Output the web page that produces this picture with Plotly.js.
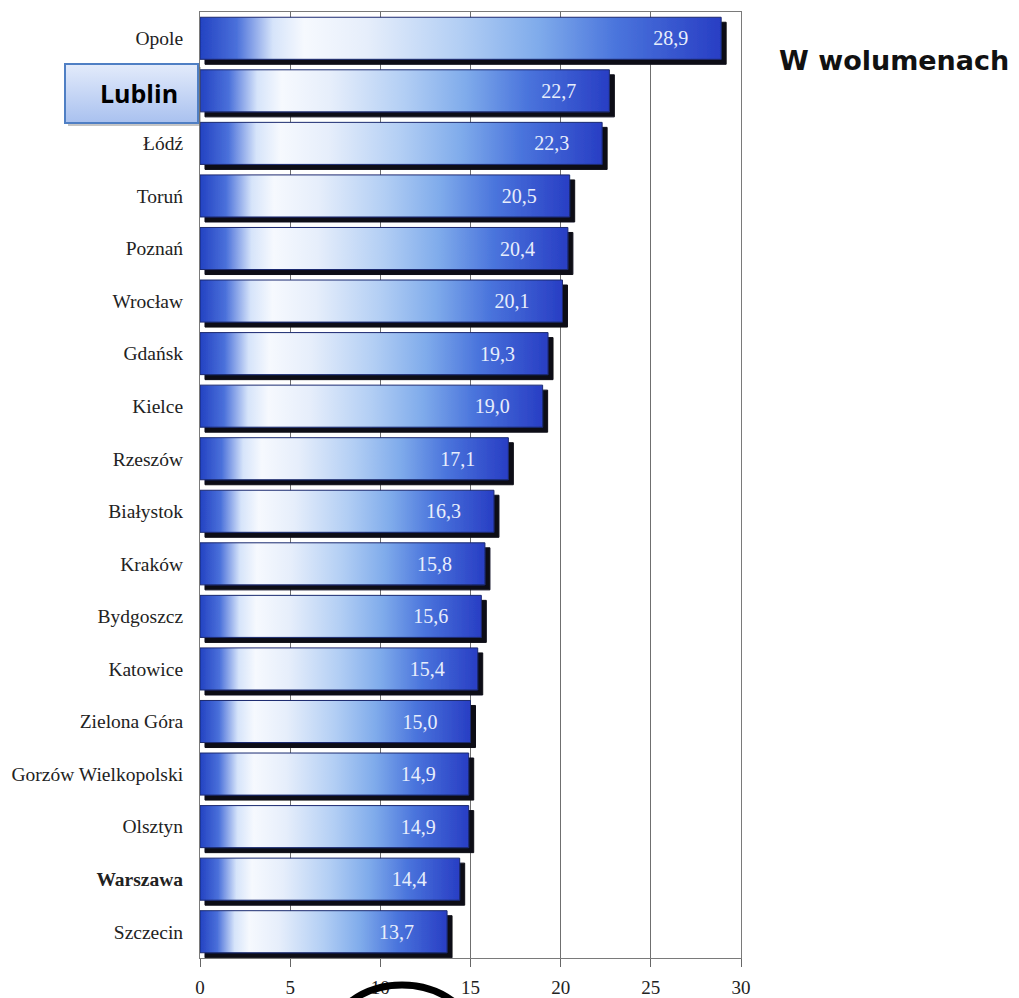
<!DOCTYPE html>
<html>
<head>
<meta charset="utf-8">
<script src="https://cdn.plot.ly/plotly-3.0.1.min.js"></script>
<style>
  html, body { margin: 0; padding: 0; background: #ffffff; }
  #chart { width: 1019px; height: 998px; }
</style>
</head>
<body>
<svg width="0" height="0" style="position:absolute">
  <defs>
    <linearGradient id="barGrad" x1="0" y1="0" x2="1" y2="0">
      <stop offset="0" stop-color="#2342c2"/>
      <stop offset="0.07" stop-color="#4a70da"/>
      <stop offset="0.14" stop-color="#d6e4fa"/>
      <stop offset="0.2" stop-color="#f6f9fe"/>
      <stop offset="0.32" stop-color="#e6eefb"/>
      <stop offset="0.5" stop-color="#b2cef4"/>
      <stop offset="0.65" stop-color="#7fabeb"/>
      <stop offset="0.8" stop-color="#4a74dc"/>
      <stop offset="1" stop-color="#283ec4"/>
    </linearGradient>
    <linearGradient id="boxGrad" x1="0" y1="0" x2="0" y2="1">
      <stop offset="0" stop-color="#e3ebfb"/>
      <stop offset="1" stop-color="#a9c1ef"/>
    </linearGradient>
    <filter id="barShadow" x="-0.05" y="-0.3" width="1.2" height="1.7">
      <feDropShadow dx="5" dy="5" stdDeviation="0.6" flood-color="#0d0d18" flood-opacity="1"/>
    </filter>
  </defs>
</svg>
<div id="chart"></div>
<script>
const cities = ['Opole','Lublin','Łódź','Toruń','Poznań','Wrocław','Gdańsk','Kielce','Rzeszów','Białystok','Kraków','Bydgoszcz','Katowice','Zielona Góra','Gorzów Wielkopolski','Olsztyn','Warszawa','Szczecin'];
const values = [28.9,22.7,22.3,20.5,20.4,20.1,19.3,19.0,17.1,16.3,15.8,15.6,15.4,15.0,14.9,14.9,14.4,13.7];
const boldCities = ['Warszawa'];
const highlightCity = 'Lublin';
const xTicks = [0,5,10,15,20,25,30];

// the highlighted city's label is shown in the callout box instead of the axis
const tickText = cities.map(c => c === highlightCity ? '' : (boldCities.includes(c) ? '<b>' + c + '</b>' : c));
const pad = '\u00a0\u00a0\u00a0\u00a0\u00a0\u00a0';

const trace = {
  type: 'bar',
  orientation: 'h',
  x: values,
  y: cities,
  marker: { color: '#3c64d6', line: { color: '#1b2a70', width: 1 } },
  texttemplate: '%{x:.1f}' + pad,
  textposition: 'inside',
  insidetextanchor: 'end',
  insidetextfont: { family: 'Liberation Serif', size: 20, color: '#e8eefc' },
  hoverinfo: 'skip',
  cliponaxis: false
};

const px = v => (v - 200) / 541;
const py = v => (958 - v) / 946;

const layout = {
  width: 1019,
  height: 998,
  margin: { l: 200, r: 278, t: 12, b: 40 },
  paper_bgcolor: '#ffffff',
  plot_bgcolor: '#ffffff',
  separators: ', ',
  bargap: 0.2,
  showlegend: false,
  font: { family: 'Liberation Serif', color: '#222' },
  xaxis: {
    range: [0, 30],
    tickvals: xTicks,
    ticktext: xTicks.map(String),
    showgrid: true,
    gridcolor: '#6f6f6f',
    gridwidth: 1,
    zeroline: false,
    showline: true,
    linecolor: '#7a7a7a',
    linewidth: 1,
    mirror: true,
    ticks: 'outside',
    ticklen: 8,
    tickcolor: '#666',
    ticklabelstandoff: 4,
    tickfont: { family: 'Liberation Serif', size: 19, color: '#222' },
    fixedrange: true
  },
  yaxis: {
    autorange: 'reversed',
    tickvals: cities,
    ticktext: tickText,
    showgrid: false,
    zeroline: false,
    showline: true,
    linecolor: '#7a7a7a',
    linewidth: 1,
    mirror: true,
    ticks: '',
    ticklabelstandoff: 12,
    tickfont: { family: 'Liberation Serif', size: 19.5, color: '#222' },
    fixedrange: true
  },
  shapes: [
    { type: 'rect', xref: 'paper', yref: 'paper',
      x0: px(68), x1: px(201), y0: py(126), y1: py(67),
      fillcolor: 'rgba(90,90,90,0.35)', line: { width: 0 }, layer: 'above' },
    { type: 'rect', xref: 'paper', yref: 'paper',
      x0: px(65), x1: px(198), y0: py(123), y1: py(64),
      fillcolor: '#c6d6f5', line: { color: '#4f7fc4', width: 2 }, layer: 'above',
      name: 'calloutBox' },
    { type: 'circle', xref: 'paper', yref: 'paper',
      x0: px(325), x1: px(479), y0: py(1115), y1: py(985),
      line: { color: '#000', width: 7 }, fillcolor: 'rgba(0,0,0,0)', layer: 'above' }
  ],
  annotations: [
    { xref: 'paper', yref: 'paper', x: px(180), y: py(93), xanchor: 'right', yanchor: 'middle',
      text: '<b>' + highlightCity + '</b>', showarrow: false,
      font: { family: 'Open Sans', size: 25, color: '#000' } },
    { xref: 'paper', yref: 'paper', x: px(777), y: py(60), xanchor: 'left', yanchor: 'middle',
      text: '<b>W wolumenach</b>', showarrow: false,
      font: { family: 'DejaVu Sans', size: 27, color: '#111' } }
  ]
};

Plotly.newPlot('chart', [trace], layout, { displayModeBar: false, staticPlot: true }).then(() => {
  document.querySelectorAll('#chart .barlayer .point path').forEach(p => {
    p.style.fill = 'url(#barGrad)';
    p.style.filter = 'url(#barShadow)';
  });
  const shapePaths = document.querySelectorAll('#chart .shapelayer path');
  if (shapePaths[1]) shapePaths[1].style.fill = 'url(#boxGrad)';
});
</script>
</body>
</html>
